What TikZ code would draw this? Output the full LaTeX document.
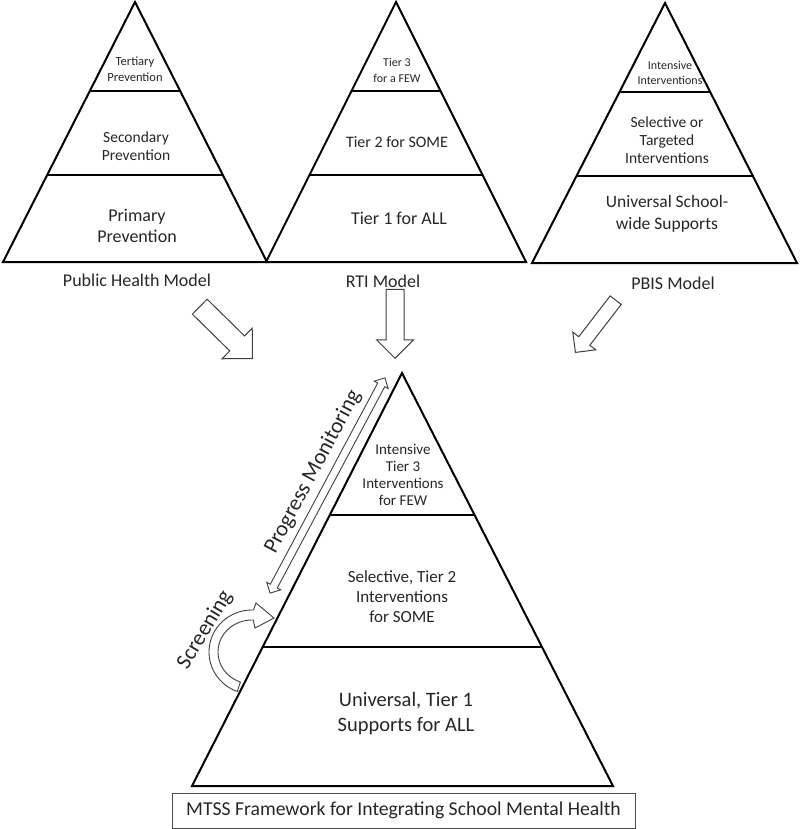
\documentclass[tikz,border=0pt]{standalone}
\usepackage{fontspec}
\setmainfont{Carlito}
\usetikzlibrary{shapes.arrows}
\begin{document}
\begin{tikzpicture}[x=1pt,y=-1pt,
  pyr/.style={line width=2pt, line join=miter, draw=black},
  tierline/.style={line width=1.8pt, draw=black},
  lbl/.style={align=center, inner sep=0pt, text=black!85},
  barrow/.style={single arrow, draw=black!75, line width=1pt, fill=white, inner xsep=0pt},
]
\useasboundingbox (0,0) rectangle (800,829);

% ---------- top-left pyramid ----------
\draw[pyr] (135,2) -- (3,262) -- (267,262) -- cycle;
\draw[tierline] (90,91) -- (180,91);
\draw[tierline] (47,175) -- (223,175);
\node[lbl, font=\fontsize{12.5}{16}\selectfont] (t1) at (135,69) {Tertiary\\Prevention};
\node[lbl, font=\fontsize{15.5}{18}\selectfont] (s1) at (136,146) {Secondary\\Prevention};
\node[lbl, font=\fontsize{18}{21}\selectfont] (p1) at (137,226) {Primary\\Prevention};
\node[lbl, font=\fontsize{18}{21}\selectfont] (m1) at (137,280) {Public Health Model};

% ---------- middle pyramid ----------
\draw[pyr] (396,2) -- (266,262) -- (526,262) -- cycle;
\draw[tierline] (351,91) -- (441,91);
\draw[tierline] (309,175) -- (483,175);
\node[lbl, font=\fontsize{12}{16}\selectfont] (t2) at (397,70) {Tier 3\\for a FEW};
\node[lbl, font=\fontsize{16}{19}\selectfont] (s2) at (397,142) {Tier 2 for SOME};
\node[lbl, font=\fontsize{18}{21}\selectfont] (p2) at (399,218) {Tier 1 for ALL};
\node[lbl, font=\fontsize{18}{21}\selectfont] (m2) at (383,281) {RTI Model};

% ---------- right pyramid ----------
\draw[pyr] (665,3) -- (532,263) -- (797,263) -- cycle;
\draw[tierline] (620,92) -- (710,92);
\draw[tierline] (576,176) -- (754,176);
\node[lbl, font=\fontsize{12}{15}\selectfont] (t3) at (670,73) {Intensive\\Interventions};
\node[lbl, font=\fontsize{15.5}{18}\selectfont] (s3) at (667,140) {Selective or\\Targeted\\Interventions};
\node[lbl, font=\fontsize{17.5}{22}\selectfont] (p3) at (667,214) {Universal School-\\wide Supports};
\node[lbl, font=\fontsize{18}{21}\selectfont] (m3) at (673,283) {PBIS Model};

% ---------- block arrows ----------
\node[barrow, minimum height=74pt, inner ysep=10pt, single arrow head extend=11pt,
      rotate=-44.5, anchor=tip] (a1) at (253,359) {};
\node[barrow, minimum height=69pt, inner ysep=8.5pt, single arrow head extend=9.5pt,
      rotate=-90, anchor=tip] (a2) at (395,359) {};
\node[barrow, minimum height=66pt, inner ysep=6.5pt, single arrow head extend=7.5pt,
      rotate=-127.6, anchor=tip] (a3) at (575,353) {};

% ---------- bottom pyramid ----------
\draw[pyr] (402,373) -- (192,786) -- (613,786) -- cycle;
\draw[tierline] (330,515) -- (474,515);
\draw[tierline] (263,647) -- (541,647);
\node[lbl, font=\fontsize{15}{16.8}\selectfont] (t4) at (403,475) {Intensive\\Tier 3\\Interventions\\for FEW};
\node[lbl, font=\fontsize{17}{20}\selectfont] (s4) at (402,597) {Selective, Tier 2\\Interventions\\for SOME};
\node[lbl, font=\fontsize{20.5}{25}\selectfont] (p4) at (406,714) {Universal, Tier 1\\Supports for ALL};

% caption
\node[draw=black!70, line width=0.8pt, minimum width=463pt, minimum height=35pt, inner sep=0pt,
      font=\fontsize{19.7}{22}\selectfont, text=black!85] (cap) at (403.5,810.5)
      {MTSS Framework for Integrating School Mental Health};

% progress monitoring
\node[double arrow, draw=black!75, line width=0.9pt, fill=white, inner xsep=0pt, inner ysep=3.5pt,
      double arrow head extend=4pt, minimum height=244pt, rotate=61.9] (pm) at (327.5,485.5) {};
\node[lbl, font=\fontsize{22}{24}\selectfont, rotate=61.9] (pmt) at (313,472) {Progress Monitoring};

% screening
\draw[draw=black!75, line width=0.9pt, fill=white]
  plot[domain=110:272, samples=40] ({252+43*cos(\x)},{652+42*sin(\x)})
  -- (256,603) -- (274,618) -- (255,628)
  -- plot[domain=272:110, samples=40] ({252+34*cos(\x)},{652+32*sin(\x)}) -- cycle;
\node[lbl, font=\fontsize{22}{24}\selectfont, rotate=59] (scr) at (205,630) {Screening};
\end{tikzpicture}
\end{document}
